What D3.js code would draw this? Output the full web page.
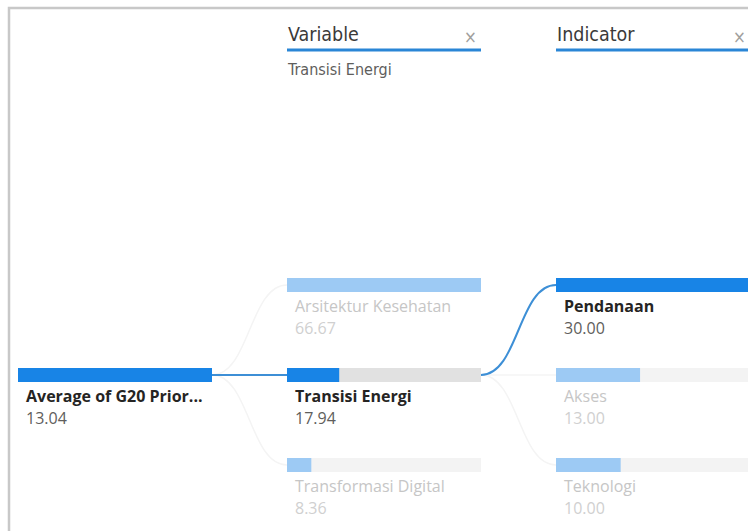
<!DOCTYPE html>
<html lang="id">
<head>
<meta charset="UTF-8">
<title>Decomposition tree</title>
<script src="https://cdn.jsdelivr.net/npm/d3@7"></script>
<style>
    body { margin: 0; background: #fff; }
    svg { display: block; }
    .lbl { font-family: "Open Sans", "Noto Sans", sans-serif; font-size: 16px; }
    .hdr { font-family: "DejaVu Sans Condensed", "Roboto", sans-serif; font-size: 19.5px; fill: #3b3a39; }
</style>
</head>
<body>
<script>
    // 数据
    var rootLabel = "Average of G20 Prior...";
    var rootValue = 13.04;
    var levelNames = ["Variable", "Indicator"];
    var variables = ["Arsitektur Kesehatan", "Transisi Energi", "Transformasi Digital"];
    var variableValues = [66.67, 17.94, 8.36];
    var indicators = ["Pendanaan", "Akses", "Teknologi"];
    var indicatorValues = [30.00, 13.00, 10.00];
    var selectedPath = ["Transisi Energi", "Pendanaan"];

    var width = 748, height = 531;
    var barW = 194, barH = 14;
    var blue = "#1884e6", lightBlue = "#9dcaf4";

    var svg = d3.select("body").append("svg")
        .attr("width", width).attr("height", height);

    // 外框
    svg.append("path")
        .attr("d", "M9,531V8H748")
        .attr("fill", "none").attr("stroke", "#c8c8c8").attr("stroke-width", 2.5);

    // 列位置, 行位置
    var colX = d3.scaleLinear().domain([0, 2]).range([18, 556]);
    var rowY = d3.scalePoint().domain([0, 1, 2]).range([278, 458]);
    var rootY = rowY(1);

    var levels = [
        { names: variables, values: variableValues },
        { names: indicators, values: indicatorValues }
    ];

    // 层级节点
    var nodes = [{ col: 0, name: rootLabel, value: rootValue, y: rootY, sel: true, w: barW }];
    levels.forEach(function (lv, li) {
        var x = d3.scaleLinear().domain([0, d3.max(lv.values)]).range([0, barW]);
        lv.names.forEach(function (n, i) {
            nodes.push({
                col: li + 1, name: n, value: lv.values[i], y: rowY(i),
                sel: n === selectedPath[li], w: x(lv.values[i]),
                parentY: li === 0 ? rootY : rowY(variables.indexOf(selectedPath[0]))
            });
        });
    });

    // 连线 (未选中的先画, 选中的盖在上面)
    var link = d3.linkHorizontal().x(function (d) { return d[0]; }).y(function (d) { return d[1]; });
    var g = svg.append("g");
    nodes.filter(function (d) { return d.col > 0; })
        .sort(function (a, b) { return a.sel - b.sel; })
        .forEach(function (d) {
            var sx = colX(d.col - 1) + barW;
            g.append("path")
                .attr("d", link({ source: [sx, d.parentY + barH / 2], target: [colX(d.col), d.y + barH / 2] }))
                .attr("fill", "none")
                .attr("stroke", d.sel ? "#3d8fd6" : "#f4f4f4")
                .attr("stroke-width", d.sel ? 2 : 1.5);
        });

    // 结点
    var node = svg.selectAll(".node").data(nodes).enter().append("g")
        .attr("class", "node")
        .attr("transform", function (d) { return "translate(" + colX(d.col) + "," + d.y + ")"; });

    node.append("rect")
        .attr("width", barW).attr("height", barH)
        .attr("fill", function (d) { return d.sel ? "#e1e1e1" : "#f3f3f3"; });
    node.append("rect")
        .attr("width", function (d) { return d.w; }).attr("height", barH)
        .attr("fill", function (d) { return d.sel ? blue : lightBlue; });

    node.append("text").attr("class", "lbl")
        .attr("x", 8).attr("y", 34)
        .attr("font-weight", function (d) { return d.sel ? 700 : 400; })
        .attr("fill", function (d) { return d.sel ? "#252423" : "#c6c6c6"; })
        .text(function (d) { return d.name; });
    node.append("text").attr("class", "lbl")
        .attr("x", 8).attr("y", 56)
        .attr("fill", function (d) { return d.sel ? "#605e5c" : "#d0d0d0"; })
        .text(function (d) { return d3.format(".2f")(d.value); });

    // 表头
    var hdr = svg.selectAll(".head").data(levelNames).enter().append("g")
        .attr("transform", function (d, i) { return "translate(" + colX(i + 1) + ",0)"; });
    hdr.append("text").attr("class", "hdr").attr("x", 1).attr("y", 41).text(function (d) { return d; });
    hdr.append("text").attr("class", "hdr").attr("x", barW - 17).attr("y", 43)
        .style("fill", "#a19f9d").style("font-size", "17px").text("×");
    hdr.append("rect").attr("y", 48.5).attr("width", barW).attr("height", 3).attr("fill", "#2a86d6");
    hdr.filter(function (d, i) { return i === 0; }).append("text")
        .attr("x", 1).attr("y", 75)
        .style("font-family", "'DejaVu Sans Condensed', sans-serif").style("font-size", "16px")
        .attr("fill", "#605e5c")
        .text(selectedPath[0]);
</script>
</body>
</html>
